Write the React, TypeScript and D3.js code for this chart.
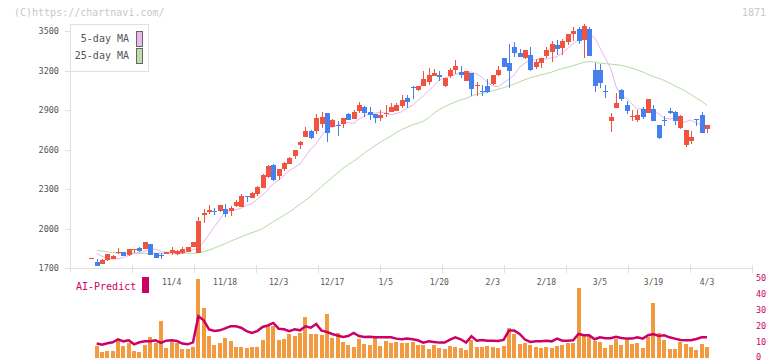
import React, { useRef, useEffect } from 'react'
import * as d3 from 'd3'

// daily candles, oldest first
const opens = [
  1772, 1748, 1733, 1758, 1768, 1812, 1822, 1796, 1840, 1854,
  1847, 1882, 1816, 1795, 1804, 1814, 1809, 1816, 1822, 1857,
  1816, 2105, 2125, 2136, 2133, 2148, 2133, 2171, 2166, 2247,
  2229, 2262, 2310, 2391, 2482, 2398, 2454, 2493, 2551, 2634,
  2695, 2741, 2741, 2796, 2880, 2773, 2784, 2794, 2872, 2832,
  2893, 2921, 2885, 2870, 2839, 2875, 2888, 2893, 2930, 2991,
  3075, 3052, 3085, 3115, 3161, 3166, 3082, 3161, 3202, 3191,
  3120, 3184, 3083, 3044, 3080, 3095, 3163, 3295, 3257, 3378,
  3333, 3292, 3318, 3226, 3257, 3308, 3340, 3394, 3368, 3419,
  3477, 3513, 3429, 3517, 3201, 3204, 3047, 2816, 2918, 3055,
  2941, 2853, 2826, 2908, 2877, 2908, 2789, 2825, 2895, 2885,
  2763, 2632, 2662, 2832, 2862, 2758,
]
const highs = [
  1776, 1766, 1768, 1808, 1800, 1850, 1825, 1846, 1845, 1860,
  1897, 1882, 1816, 1812, 1819, 1857, 1839, 1860, 1860, 1895,
  2090, 2146, 2178, 2153, 2178, 2186, 2171, 2216, 2262, 2247,
  2280, 2320, 2412, 2480, 2490, 2454, 2505, 2545, 2596, 2665,
  2769, 2748, 2872, 2883, 2880, 2835, 2816, 2839, 2880, 2900,
  2963, 2930, 2920, 2870, 2899, 2938, 2953, 2953, 3014, 3012,
  3085, 3085, 3196, 3217, 3215, 3196, 3146, 3221, 3280, 3237,
  3194, 3184, 3110, 3087, 3133, 3163, 3237, 3295, 3399, 3414,
  3366, 3358, 3381, 3290, 3297, 3378, 3424, 3432, 3440, 3477,
  3530, 3530, 3553, 3528, 3259, 3251, 3088, 2880, 3032, 3062,
  2971, 2900, 2898, 2923, 2984, 2936, 2789, 2855, 2913, 2895,
  2864, 2750, 2743, 2832, 2887, 2786,
]
const lows = [
  1772, 1717, 1733, 1755, 1765, 1810, 1790, 1790, 1816, 1822,
  1847, 1796, 1778, 1771, 1804, 1799, 1797, 1810, 1820, 1857,
  1812, 2040, 2110, 2103, 2125, 2090, 2097, 2160, 2166, 2204,
  2229, 2250, 2310, 2380, 2360, 2368, 2440, 2493, 2530, 2604,
  2695, 2680, 2720, 2761, 2659, 2773, 2705, 2765, 2824, 2832,
  2880, 2849, 2824, 2799, 2816, 2849, 2888, 2893, 2918, 2918,
  2981, 3045, 3080, 3090, 3161, 3123, 3075, 3146, 3173, 3146,
  3120, 3009, 3006, 3004, 3030, 3090, 3160, 3224, 3065, 3305,
  3300, 3285, 3196, 3209, 3221, 3292, 3267, 3320, 3320, 3396,
  3424, 3404, 3297, 3312, 3037, 3067, 2991, 2733, 2918, 2966,
  2872, 2816, 2809, 2829, 2877, 2816, 2678, 2779, 2867, 2784,
  2753, 2619, 2644, 2779, 2728, 2725,
]
const closes = [
  1776, 1717, 1761, 1804, 1793, 1822, 1793, 1844, 1842, 1829,
  1897, 1796, 1778, 1790, 1819, 1839, 1831, 1844, 1857, 1895,
  2057, 2120, 2139, 2131, 2178, 2108, 2153, 2201, 2247, 2236,
  2272, 2315, 2406, 2475, 2368, 2454, 2497, 2538, 2596, 2657,
  2741, 2685, 2842, 2847, 2728, 2824, 2779, 2839, 2824, 2888,
  2938, 2875, 2862, 2842, 2862, 2879, 2923, 2938, 2976, 2963,
  3070, 3085, 3138, 3166, 3184, 3148, 3146, 3207, 3234, 3166,
  3194, 3062, 3087, 3034, 3039, 3163, 3207, 3229, 3199, 3333,
  3305, 3358, 3206, 3264, 3297, 3358, 3399, 3363, 3425, 3477,
  3502, 3427, 3538, 3312, 3085, 3105, 3043, 2847, 2953, 2986,
  2895, 2857, 2860, 2847, 2984, 2816, 2690, 2820, 2880, 2816,
  2855, 2750, 2695, 2828, 2728, 2786,
]
const ma5 = [
  null, 1812, 1789, 1774, 1768, 1770, 1779, 1795, 1811, 1819,
  1826, 1841, 1842, 1828, 1818, 1816, 1804, 1811, 1825, 1838,
  1853, 1897, 1955, 2014, 2069, 2125, 2136, 2142, 2155, 2177,
  2189, 2222, 2254, 2295, 2341, 2367, 2404, 2440, 2466, 2491,
  2548, 2606, 2643, 2704, 2754, 2769, 2785, 2804, 2804, 2799,
  2831, 2854, 2873, 2877, 2881, 2876, 2864, 2873, 2888, 2915,
  2935, 2974, 3006, 3046, 3084, 3129, 3144, 3156, 3170, 3184,
  3180, 3189, 3173, 3148, 3108, 3083, 3077, 3106, 3134, 3167,
  3226, 3255, 3285, 3280, 3293, 3286, 3297, 3305, 3336, 3368,
  3404, 3433, 3439, 3474, 3451, 3373, 3293, 3217, 3078, 3007,
  2987, 2945, 2907, 2910, 2889, 2888, 2872, 2839, 2831, 2838,
  2804, 2812, 2824, 2799, 2789, 2771,
]
const ma25 = [
  null, 1834, 1828, 1822, 1817, 1814, 1813, 1812, 1812, 1811,
  1811, 1811, 1812, 1812, 1812, 1812, 1812, 1812, 1812, 1812,
  1816, 1824, 1836, 1852, 1868, 1885, 1903, 1920, 1937, 1953,
  1968, 1982, 2000, 2025, 2052, 2075, 2100, 2125, 2155, 2185,
  2214, 2245, 2283, 2318, 2354, 2388, 2423, 2457, 2485, 2512,
  2541, 2572, 2602, 2630, 2655, 2680, 2703, 2730, 2752, 2770,
  2787, 2800, 2815, 2840, 2875, 2905, 2925, 2945, 2962, 2977,
  2988, 3005, 3020, 3028, 3035, 3046, 3058, 3070, 3083, 3097,
  3114, 3130, 3145, 3157, 3167, 3177, 3188, 3203, 3215, 3225,
  3237, 3250, 3262, 3268, 3264, 3256, 3252, 3248, 3244, 3239,
  3230, 3217, 3203, 3189, 3170, 3153, 3141, 3125, 3105, 3084,
  3064, 3043, 3017, 2990, 2966, 2936,
]
// lower panel (0-50 scale)
const volumes = [
  null, 7.7, 3.75, 4.4, 4.4, 10.6, 7.7, 9.8, 4.4, 3.75,
  8.1, 13.1, 9.4, 23.1, 6.25, 10.2, 9.4, 5.6, 5.6, 6.9,
  49.4, 31.3, 14, 8.1, 9.4, 12.5, 10.6, 6.9, 6.9, 6.25,
  6.9, 6.9, 11.25, 20, 20, 11.25, 11.9, 15, 13.75, 15.6,
  25.6, 15, 15, 14.4, 27.5, 12.5, 15.6, 10, 8.1, 6.9,
  11.9, 8.75, 8.1, 13.75, 7.5, 10.6, 9.4, 10, 9.4, 9.4,
  10, 8.1, 8.1, 5.6, 8.1, 6.25, 5.6, 7.5, 6.9, 6.25,
  5, 11.25, 6.9, 6.9, 7.5, 6.9, 6.25, 7.5, 18.75, 15,
  8.75, 9.4, 8.4, 6.9, 6.25, 6.9, 6.25, 7.5, 8.1, 9.4,
  9.4, 43.75, 14.4, 13.75, 10.6, 10, 6.25, 8.1, 11.9, 8.1,
  11.9, 8.75, 9.4, 6.25, 13.1, 34.4, 15.6, 11.25, 5.6, 5.6,
  10, 8.75, 6.9, 5, 8.75, 6.9,
]
const aiPredict = [
  null, 9.2, 8.5, 9.4, 10, 11.9, 10.6, 11.25, 8.75, 10,
  10.6, 10.6, 11.25, 9.6, 11, 11.25, 10.8, 9.2, 8.75, 10,
  26.25, 23.75, 18.1, 17.1, 17.5, 18.75, 20, 20, 19.1, 17,
  15.9, 17, 19.6, 20.6, 22.1, 18.5, 18.1, 16.9, 18.1, 17.5,
  20, 19.1, 21.5, 17.3, 16.5, 15.2, 14.2, 13.3, 13.9, 15.8,
  13.9, 13.3, 13.5, 13.1, 13.1, 13.1, 13.1, 12.3, 11.9, 12.3,
  11.9, 11.25, 9.8, 10.6, 10.2, 9.8, 9.8, 11.7, 13.1, 11.9,
  9.8, 13.75, 11, 11.5, 11, 11, 10.8, 11.5, 17.3, 17.3,
  15.2, 11.7, 10.2, 10.6, 10.6, 11, 10.6, 12.3, 11, 11,
  11.25, 15.2, 14.4, 14.4, 11.9, 13.1, 12.5, 12.5, 13.5, 12.7,
  12.3, 12.3, 13.1, 12.3, 14.4, 15.2, 13.9, 14.4, 13.1, 12.3,
  11.5, 11.25, 11.25, 12.1, 13.1, 13.1,
]
const dateLabels = ['11/4', '11/18', '12/3', '12/17', '1/5', '1/20', '2/3', '2/18', '3/5', '3/19', '4/3']
const dateLabelIdx = [15, 25, 35, 45, 55, 65, 75, 85, 95, 105, 115]
const priceTicks = [1700, 2000, 2300, 2600, 2900, 3200, 3500]
const subTicks = [0, 10, 20, 30, 40, 50]

const UP = '#f05340'
const DOWN = '#4680ee'
const MONO = '"DejaVu Sans Mono", monospace'

function App() {
  const svgRef = useRef(null)

  useEffect(() => {
    const svg = d3.select(svgRef.current)
    svg.selectAll('*').remove()

    const x = d3.scaleLinear().domain([0, closes.length - 1]).range([91.3, 707])
    const y = d3.scaleLinear().domain([1700, 3500]).range([268, 31])
    const ySub = d3.scaleLinear().domain([0, 50]).range([358.3, 278.3])
    const xGrid = d3.scaleLinear().domain([0, 11]).range([70, 752])

    // header
    svg.append('text').attr('x', 14).attr('y', 16).text('(C)https://chartnavi.com/')
      .attr('font-family', MONO).attr('font-size', 10).attr('fill', '#c8c8c8')
    svg.append('text').attr('x', 766).attr('y', 16).attr('text-anchor', 'end').text('1871')
      .attr('font-family', MONO).attr('font-size', 10).attr('fill', '#c8c8c8')

    // axes
    const axisCol = '#e0e0e0'
    svg.append('line').attr('x1', 70.5).attr('x2', 70.5).attr('y1', 24).attr('y2', 272)
      .attr('stroke', axisCol)
    svg.append('line').attr('x1', 70).attr('x2', 752).attr('y1', 268.5).attr('y2', 268.5)
      .attr('stroke', axisCol)
    svg.selectAll('.xt').data(d3.range(1, 12)).join('line')
      .attr('x1', d => Math.round(xGrid(d)) + 0.5).attr('x2', d => Math.round(xGrid(d)) + 0.5)
      .attr('y1', 265).attr('y2', 273).attr('stroke', axisCol)
    svg.selectAll('.yt').data(priceTicks).join('line')
      .attr('x1', 65).attr('x2', 70).attr('y1', d => Math.round(y(d)) + 0.5).attr('y2', d => Math.round(y(d)) + 0.5)
      .attr('stroke', axisCol)
    svg.selectAll('.yl').data(priceTicks).join('text')
      .attr('x', 59).attr('y', d => y(d) + 3).attr('text-anchor', 'end')
      .attr('font-family', MONO).attr('font-size', 8.5).attr('fill', '#555')
      .text(d => d)

    // legend
    svg.append('rect').attr('x', 70.5).attr('y', 24.5).attr('width', 78).attr('height', 47)
      .attr('fill', '#fff').attr('stroke', axisCol)
    const leg = [['5-day MA', '#ecb8ec', 31], ['25-day MA', '#bcdcac', 48]]
    leg.forEach(([label, col, top]) => {
      svg.append('text').attr('x', 129).attr('y', +top + 11).attr('text-anchor', 'end')
        .attr('font-family', MONO).attr('font-size', 10).attr('fill', '#555').text(label)
      svg.append('rect').attr('x', 136.5).attr('y', +top + 0.5).attr('width', 6).attr('height', 15)
        .attr('fill', col).attr('stroke', '#666')
    })

    // moving averages
    const lineOf = (vals) => d3.line()
      .defined(d => d != null)
      .x((d, i) => x(i)).y(d => y(d))(vals)
    svg.append('path').attr('d', lineOf(ma25)).attr('fill', 'none').attr('stroke', '#b4dba2').attr('stroke-width', 1)
    svg.append('path').attr('d', lineOf(ma5)).attr('fill', 'none').attr('stroke', '#e8b4ec').attr('stroke-width', 1)

    // candles
    const idx = d3.range(closes.length)
    const g = svg.append('g').attr('shape-rendering', 'crispEdges')
    idx.forEach(i => {
      const xc = Math.round(x(i))
      const col = closes[i] >= opens[i] ? UP : DOWN
      const top = Math.round(y(Math.max(opens[i], closes[i])))
      const bot = Math.round(y(Math.min(opens[i], closes[i])))
      const hi = Math.round(y(highs[i]))
      const lo = Math.round(y(lows[i]))
      g.append('rect').attr('x', xc).attr('y', hi).attr('width', 1).attr('height', Math.max(1, lo - hi)).attr('fill', col)
      g.append('rect').attr('x', xc - 2).attr('y', top).attr('width', 5).attr('height', Math.max(1, bot - top)).attr('fill', col)
    })

    // date labels
    svg.selectAll('.dl').data(dateLabels).join('text')
      .attr('x', (d, i) => x(dateLabelIdx[i])).attr('y', 285).attr('text-anchor', 'middle')
      .attr('font-family', MONO).attr('font-size', 8).attr('fill', '#555')
      .text(d => d)

    // lower panel
    svg.append('text').attr('x', 76).attr('y', 290).text('AI-Predict')
      .attr('font-family', MONO).attr('font-size', 10).attr('fill', '#cc0066')
    svg.append('rect').attr('x', 142).attr('y', 277).attr('width', 7).attr('height', 16).attr('fill', '#cc0066')

    svg.append('g').attr('shape-rendering', 'crispEdges')
      .selectAll('rect').data(idx.filter(i => volumes[i] != null)).join('rect')
      .attr('x', i => Math.round(x(i)) - 2).attr('width', 4)
      .attr('y', i => Math.round(ySub(volumes[i])))
      .attr('height', i => Math.round(ySub(0)) - Math.round(ySub(volumes[i])))
      .attr('fill', '#f29a40')

    svg.append('path').attr('d', d3.line()
      .defined(d => d != null)
      .x((d, i) => x(i)).y(d => ySub(d))(aiPredict))
      .attr('fill', 'none').attr('stroke', '#cc0066').attr('stroke-width', 2.5)

    svg.selectAll('.sl').data(subTicks).join('text')
      .attr('x', 756).attr('y', d => Math.min(ySub(d) + 3, 359.5))
      .attr('font-family', MONO).attr('font-size', 8.5).attr('fill', '#cc0066')
      .text(d => d)
  }, [])

  return (
    <svg ref={svgRef} width={772} height={361}
      style={{ position: 'absolute', left: 0, top: 0, background: '#fff' }} />
  )
}

export default App
